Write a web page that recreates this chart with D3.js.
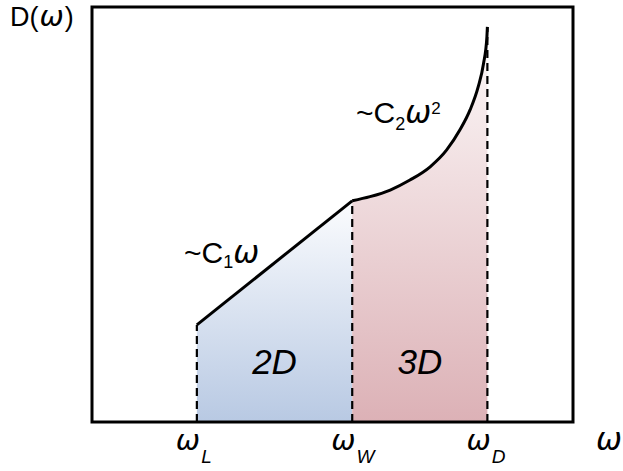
<!DOCTYPE html>
<html><head><meta charset="utf-8">
<script src="https://cdn.jsdelivr.net/npm/d3@7"></script>
<style>body{margin:0;background:#fff}svg{display:block}text{font-family:"Liberation Sans",Arial,sans-serif}.w{font-family:"DejaVu Sans",sans-serif;font-style:italic}</style>
</head><body>
<svg id="c" width="623" height="471"></svg>
<script>
// frequency markers (ω units)
const markerNames = ["L", "W", "D"];
const markerOmega = [2.18, 5.41, 8.22];
// 2D (linear) segment: ω and D(ω)
const linOmega = [2.18, 5.41];
const linD = [2.34, 5.33];
// 3D (quadratic-like) segment
const quadOmega = [5.41, 5.78, 6.20, 6.61, 7.03, 7.37, 7.65, 7.86, 8.03, 8.14, 8.21, 8.22];
const quadD     = [5.33, 5.43, 5.59, 5.83, 6.15, 6.55, 7.04, 7.52, 8.08, 8.64, 9.28, 9.52];

const svg = d3.select("#c");
const x = d3.scaleLinear().domain([0, 10]).range([92, 573]);
const y = d3.scaleLinear().domain([0, 10]).range([422, 7]);

const defs = svg.append("defs");
const g2 = defs.append("linearGradient").attr("id","g2").attr("x1",0).attr("y1",0).attr("x2",0).attr("y2",1);
g2.append("stop").attr("offset",0).attr("stop-color","#fbfcfe");
g2.append("stop").attr("offset",1).attr("stop-color","#b8c9e3");
const g3 = defs.append("linearGradient").attr("id","g3").attr("x1",0).attr("y1",0).attr("x2",0).attr("y2",1);
g3.append("stop").attr("offset",0).attr("stop-color","#fdfafa");
g3.append("stop").attr("offset",1).attr("stop-color","#dcb1b6");

const lin = linOmega.map((w,i)=>[w, linD[i]]);
const quad = quadOmega.map((w,i)=>[w, quadD[i]]);

const area = d3.area().x(d=>x(d[0])).y0(y(0)).y1(d=>y(d[1]));
svg.append("path").attr("d", area(lin)).attr("fill","url(#g2)");
svg.append("path").attr("d", area.curve(d3.curveMonotoneX)(quad)).attr("fill","url(#g3)");

// dashed verticals
const vTop = [linD[0], linD[1], quadD[quadD.length-1]];
svg.selectAll("line.v").data(markerOmega).join("line")
  .attr("x1",d=>x(d)).attr("x2",d=>x(d))
  .attr("y1",y(0)).attr("y2",(d,i)=>y(vTop[i]))
  .attr("stroke","#000").attr("stroke-width",2.2).attr("stroke-dasharray","8,5");

// curve
const line = d3.line().x(d=>x(d[0])).y(d=>y(d[1]));
svg.append("path").attr("d", line(lin)).attr("fill","none").attr("stroke","#000").attr("stroke-width",3).attr("stroke-linejoin","round");
svg.append("path").attr("d", line.curve(d3.curveMonotoneX)(quad)).attr("fill","none").attr("stroke","#000").attr("stroke-width",3);

// frame
svg.append("rect").attr("x",x(0)).attr("y",y(10)).attr("width",x(10)-x(0)).attr("height",y(0)-y(10))
  .attr("fill","none").attr("stroke","#000").attr("stroke-width",3);

// tick labels
markerOmega.forEach((w,i)=>{
  const t = svg.append("text").attr("x",x(w)-21).attr("y",450);
  t.append("tspan").attr("class","w").attr("font-size",29).text("ω");
  t.append("tspan").attr("font-style","italic").attr("font-size",19).attr("dy",13).attr("dx",1).text(markerNames[i]);
});
svg.append("text").attr("class","w").attr("x",596).attr("y",450).attr("font-size",31).text("ω");

// y label
const yl = svg.append("text").attr("x",10).attr("y",26).attr("font-size",27);
yl.append("tspan").text("D(");
yl.append("tspan").attr("class","w").attr("font-size",29).attr("dx",1).text("ω");
yl.append("tspan").attr("dx",1).text(")");

// annotations
const a1 = svg.append("text").attr("x",184).attr("y",263).attr("font-size",30);
a1.append("tspan").text("~C");
a1.append("tspan").attr("font-size",18).attr("dy",5).text("1");
a1.append("tspan").attr("dy",-5).attr("class","w").attr("font-size",31).text("ω");

const a2 = svg.append("text").attr("x",356).attr("y",123).attr("font-size",30);
a2.append("tspan").text("~C");
a2.append("tspan").attr("font-size",18).attr("dy",7).text("2");
a2.append("tspan").attr("dy",-7).attr("class","w").attr("font-size",31).text("ω");
a2.append("tspan").attr("font-size",17).attr("dy",-9).text("2");

svg.append("text").attr("x",x((markerOmega[0]+markerOmega[1])/2)).attr("y",374).attr("font-size",35)
  .attr("font-style","italic").attr("text-anchor","middle").text("2D");
svg.append("text").attr("x",x((markerOmega[1]+markerOmega[2])/2)).attr("y",374).attr("font-size",35)
  .attr("font-style","italic").attr("text-anchor","middle").text("3D");
</script>
</body></html>
